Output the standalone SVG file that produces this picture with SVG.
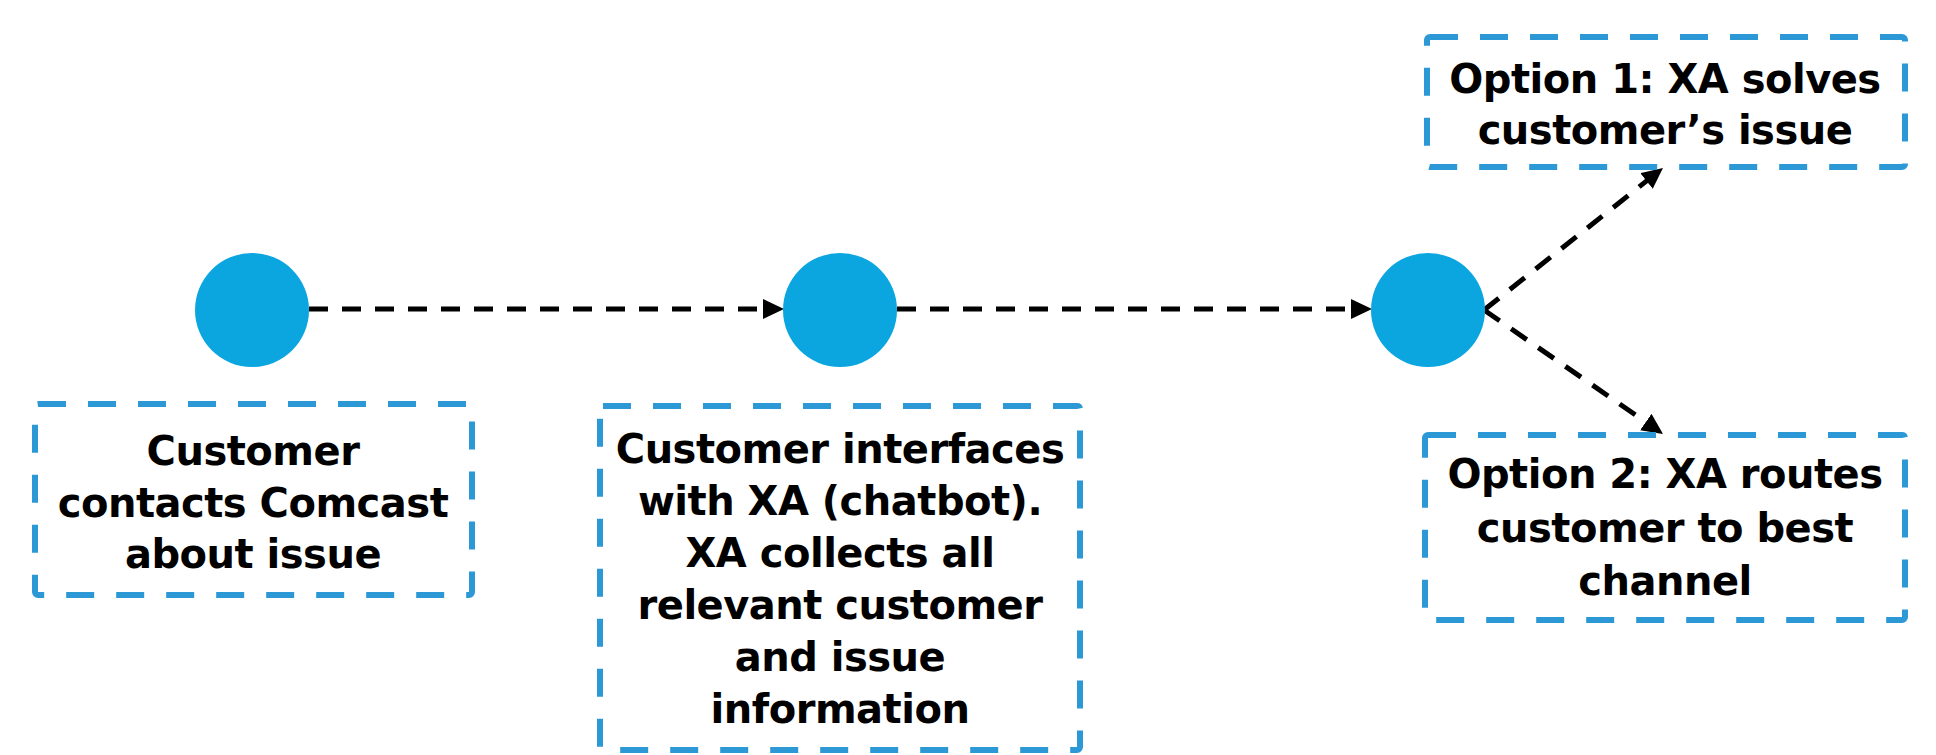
<svg xmlns="http://www.w3.org/2000/svg" width="1936" height="755" viewBox="0 0 1936 755">
  <style>
    .step { fill: #0ba5e0; }
    .box { fill: none; stroke: #2d98d6; stroke-width: 6; stroke-dasharray: 28 22; }
    .link { fill: none; stroke: #000; stroke-width: 5; stroke-dasharray: 19 14; }
    .label { font-family: "DejaVu Sans", "Liberation Sans", sans-serif; font-weight: bold; font-size: 40px; letter-spacing: -0.5px; fill: #000; text-anchor: middle; }
  </style>
  <defs>
    <marker id="arrow" markerUnits="userSpaceOnUse" markerWidth="22" markerHeight="20" refX="1" refY="10" orient="auto">
      <path d="M0 0 L21 10 L0 20 Z" fill="#000"/>
    </marker>
  </defs>
  <rect width="1936" height="755" fill="#fff"/>

  <!-- connectors between the steps -->
  <g id="connectors">
    <path class="link" d="M309 309 H764" marker-end="url(#arrow)"/>
    <path class="link" d="M897 309 H1352" marker-end="url(#arrow)"/>
    <path class="link" d="M1484 310 L1647.3 180.4" marker-end="url(#arrow)"/>
    <path class="link" d="M1484 310 L1646.6 422.6" marker-end="url(#arrow)"/>
  </g>

  <!-- step 1 -->
  <g id="step-contact">
    <circle class="step" cx="252" cy="310" r="57"/>
    <rect class="box" x="35" y="404" width="437" height="191" rx="3"/>
    <text class="label" x="253" y="465">Customer</text>
    <text class="label" x="253" y="517">contacts Comcast</text>
    <text class="label" x="253" y="568">about issue</text>
  </g>

  <!-- step 2 -->
  <g id="step-chatbot">
    <circle class="step" cx="840" cy="310" r="57"/>
    <rect class="box" x="600" y="406" width="480" height="344" rx="3"/>
    <text class="label" x="840" y="463">Customer interfaces</text>
    <text class="label" x="840" y="515">with XA (chatbot).</text>
    <text class="label" x="840" y="567">XA collects all</text>
    <text class="label" x="840" y="619">relevant customer</text>
    <text class="label" x="840" y="671">and issue</text>
    <text class="label" x="840" y="723">information</text>
  </g>

  <!-- step 3: branching point -->
  <g id="step-branch">
    <circle class="step" cx="1428" cy="310" r="57"/>
  </g>

  <!-- option 1 -->
  <g id="option-solve">
    <rect class="box" x="1427" y="37" width="478" height="130" rx="3"/>
    <text class="label" x="1665" y="93">Option 1: XA solves</text>
    <text class="label" x="1665" y="144">customer’s issue</text>
  </g>

  <!-- option 2 -->
  <g id="option-route">
    <rect class="box" x="1425" y="435" width="480" height="185" rx="3"/>
    <text class="label" x="1665" y="488">Option 2: XA routes</text>
    <text class="label" x="1665" y="542">customer to best</text>
    <text class="label" x="1665" y="595">channel</text>
  </g>
</svg>
